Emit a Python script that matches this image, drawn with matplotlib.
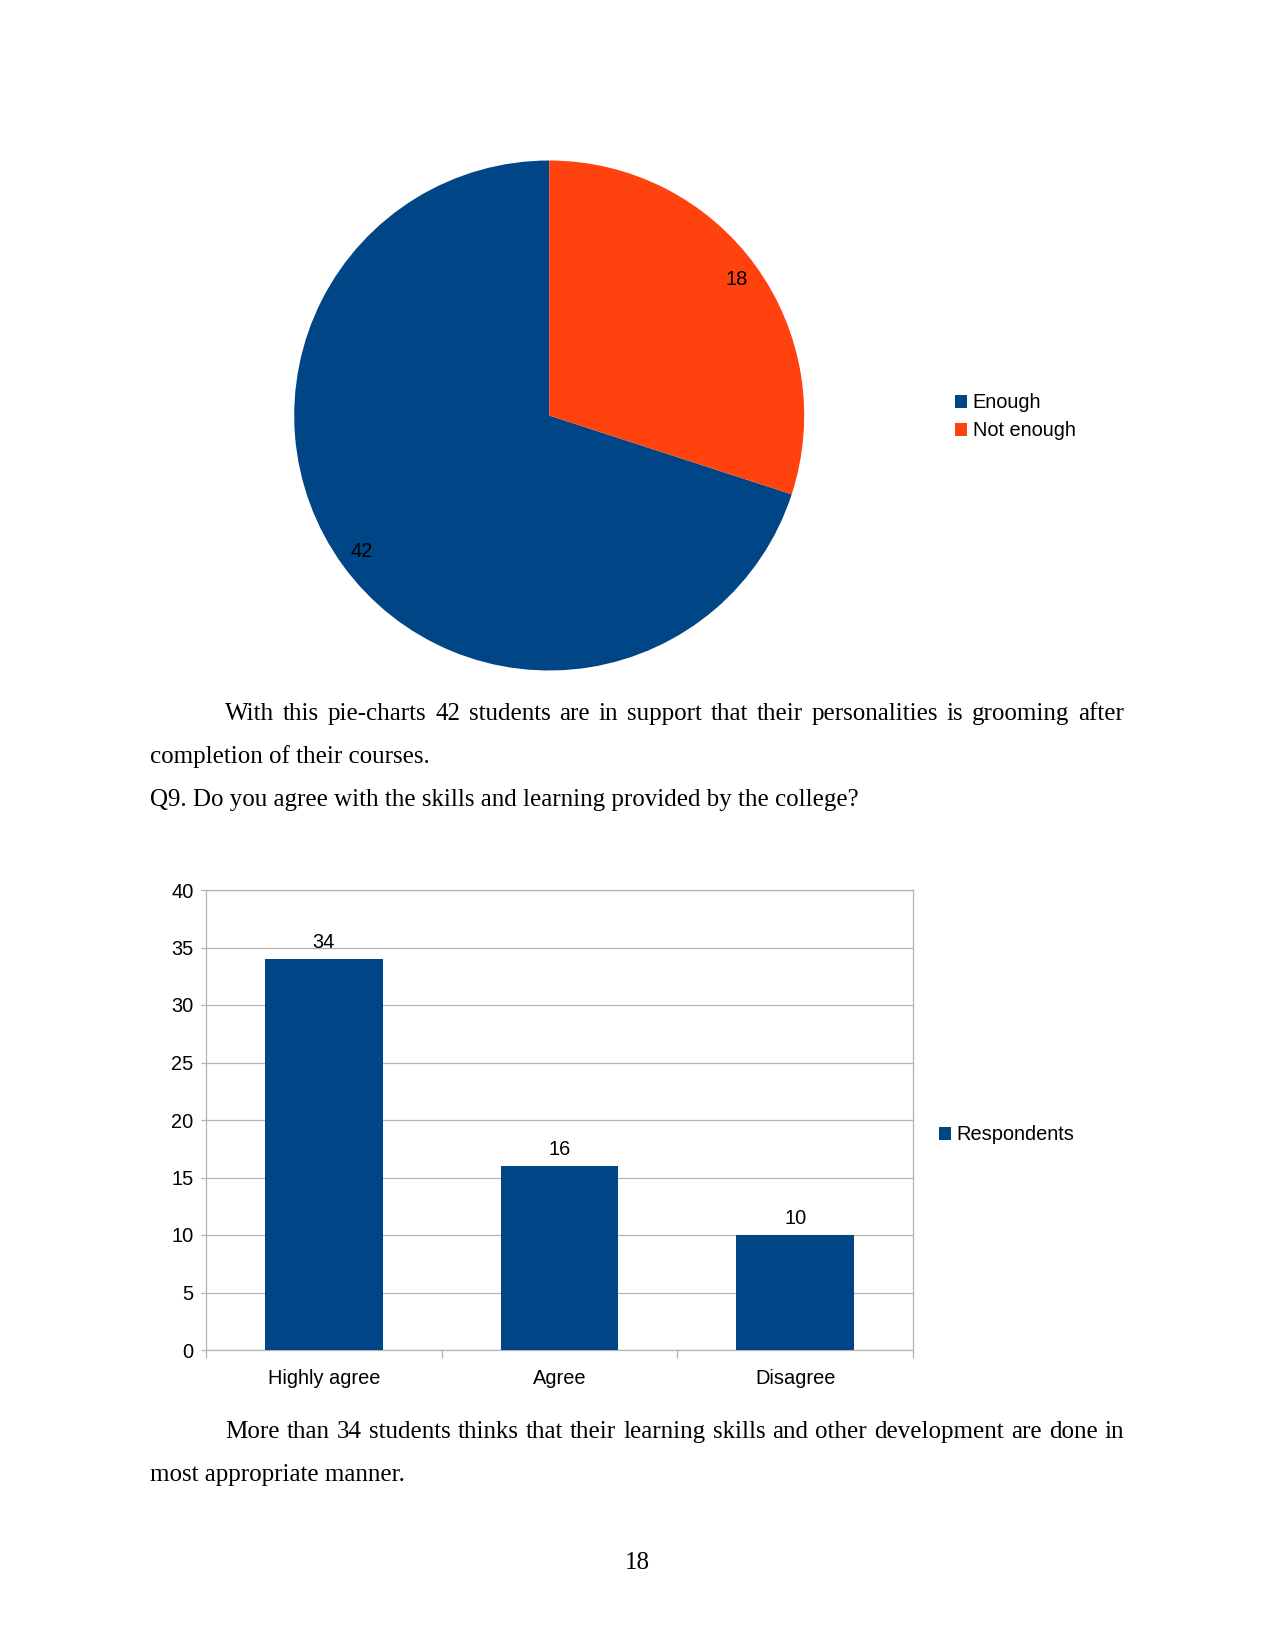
import matplotlib
matplotlib.use("Agg")
import matplotlib.pyplot as plt

# data
pieLabels = ["Enough", "Not enough"]
pieValues = [42, 18]
barCategories = ["Highly agree", "Agree", "Disagree"]
barValues = [34, 16, 10]
barSeries = "Respondents"
yTicks = [0, 5, 10, 15, 20, 25, 30, 35, 40]

blue = "#004586"
orange = "#ff420e"
gridColor = "#b3b3b3"
sans = "Liberation Sans"
serif = "Liberation Serif"
chartSize = 9.6
bodySize = 12

W, H = 1275, 1650
DPI = 150
fig = plt.figure(figsize=(W / DPI, H / DPI), dpi=DPI)


def box(left, top, right, bottom):
    # page pixels (top-left origin) -> figure fraction rect
    return [left / W, 1 - bottom / H, (right - left) / W, (bottom - top) / H]


def fy(y):
    return 1 - y / H


# ---- pie chart ----
r = 255
cx, cy = 549.2, 415.5
axPie = fig.add_axes(box(cx - r, cy - r, cx + r, cy + r))
total = sum(pieValues)
wedges, _, autoTexts = axPie.pie(pieValues, colors=[blue, orange], startangle=90,
                                 autopct=lambda p: f"{p * total / 100:.0f}",
                                 pctdistance=0.91,
                                 textprops={"fontsize": chartSize, "family": sans, "color": "black"})
axPie.set_xlim(-1, 1)
axPie.set_ylim(-1, 1)
axPie.set_aspect("equal")

fig.legend(wedges, pieLabels, loc="center left", bbox_to_anchor=(955 / W, fy(417)),
           frameon=False, borderpad=0, borderaxespad=0, handlelength=0.58, handleheight=0.58,
           handletextpad=0.3, labelspacing=0.45, prop={"family": sans, "size": chartSize})

# ---- bar chart ----
axBar = fig.add_axes(box(206, 890, 913, 1350))
x = list(range(len(barCategories)))
bars = axBar.bar(x, barValues, width=0.5, color=blue, label=barSeries, zorder=3)
axBar.bar_label(bars, padding=3.2, fontsize=chartSize, family=sans)
axBar.set_xlim(-0.5, len(barCategories) - 0.5)
axBar.set_ylim(0, 40)
axBar.set_yticks(yTicks)
axBar.set_yticklabels([str(t) for t in yTicks], fontsize=chartSize, family=sans)
axBar.set_xticks(x)
axBar.set_xticklabels(barCategories, fontsize=chartSize, family=sans)
axBar.set_xticks([i - 0.5 for i in range(len(barCategories) + 1)], minor=True)
axBar.tick_params(axis="x", which="major", length=0, pad=9)
axBar.tick_params(axis="x", which="minor", length=4, color=gridColor, width=0.6)
axBar.tick_params(axis="y", length=2.4, color=gridColor, width=0.6, pad=3.6)
axBar.grid(axis="y", color=gridColor, linewidth=0.6, zorder=0)
for s in axBar.spines.values():
    s.set_color(gridColor)
    s.set_linewidth(0.6)

fig.legend(handles=[bars], labels=[barSeries], loc="center left", bbox_to_anchor=(939 / W, fy(1135)),
           frameon=False, borderpad=0, borderaxespad=0, handlelength=0.58, handleheight=0.58,
           handletextpad=0.3, prop={"family": sans, "size": chartSize})

# ---- body text ----
renderer = fig.canvas.get_renderer()


def justified(text, left, right, y):
    words = text.split()
    items = [fig.text(0, 0, w, fontsize=bodySize, family=serif, va="baseline") for w in words]
    widths = [t.get_window_extent(renderer).width for t in items]
    gap = (right - left - sum(widths)) / (len(words) - 1)
    pos = left
    for t, w in zip(items, widths):
        t.set_position((pos / W, fy(y)))
        pos += w + gap


def plain(text, left, y, ha="left"):
    fig.text(left / W, fy(y), text, fontsize=bodySize, family=serif, va="baseline", ha=ha)


justified("With this pie-charts 42 students are in support that their personalities is grooming after",
          225, 1124, 720)
plain("completion of their courses.", 150, 763)
plain("Q9. Do you agree with the skills and learning provided by the college?", 150, 806)
justified("More than 34 students thinks that their learning skills and other development are done in",
          225, 1124, 1438)
plain("most appropriate manner.", 150, 1481)
plain("18", 637.5, 1569, ha="center")

fig.savefig("out.png", dpi=DPI)
